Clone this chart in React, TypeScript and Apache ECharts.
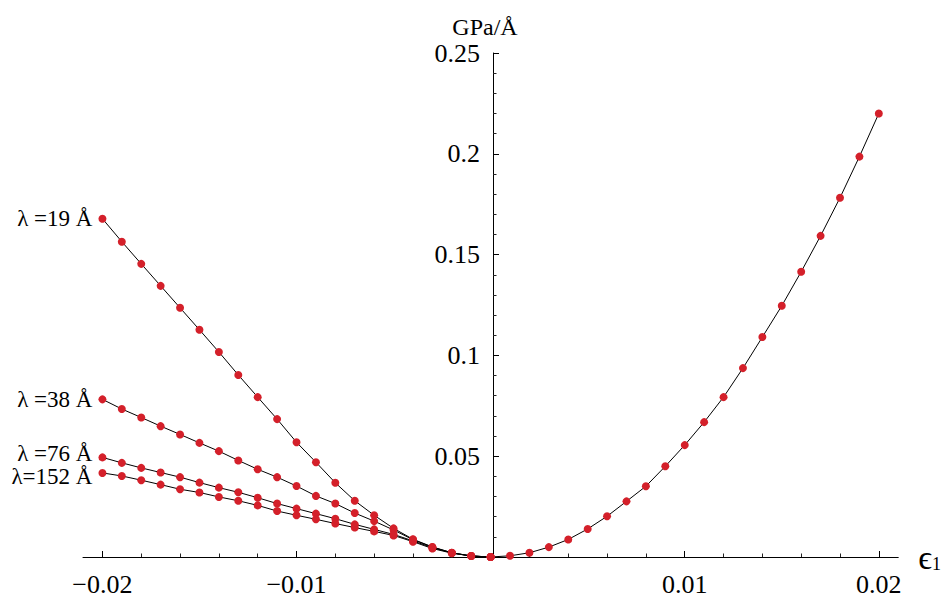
import React, { useEffect, useRef } from "react";
import * as echarts from "echarts";

// strain values (x)
const leftStrain = [-0.02, -0.019, -0.018, -0.017, -0.016, -0.015, -0.014, -0.013, -0.012, -0.011, -0.01, -0.009, -0.008, -0.007, -0.006, -0.005, -0.004, -0.003, -0.002, -0.001, 0];
const rightStrain = [0, 0.001, 0.002, 0.003, 0.004, 0.005, 0.006, 0.007, 0.008, 0.009, 0.01, 0.011, 0.012, 0.013, 0.014, 0.015, 0.016, 0.017, 0.018, 0.019, 0.02];

// energy values (GPa/Å)
const lambda19 = [0.1678, 0.1564, 0.1454, 0.1345, 0.1236, 0.1127, 0.1017, 0.0903, 0.0793, 0.0684, 0.0569, 0.047, 0.0368, 0.0279, 0.0207, 0.0142, 0.0088, 0.005, 0.0021, 0.0005, 0];
const lambda38 = [0.0782, 0.0734, 0.0692, 0.0649, 0.0608, 0.0566, 0.0525, 0.0479, 0.0435, 0.0396, 0.0352, 0.0303, 0.0265, 0.0218, 0.0178, 0.0134, 0.0086, 0.0049, 0.0021, 0.0005, 0];
const lambda76 = [0.0494, 0.0467, 0.0442, 0.0419, 0.0396, 0.0369, 0.0344, 0.0321, 0.0294, 0.0265, 0.024, 0.0215, 0.019, 0.0162, 0.0137, 0.0112, 0.008, 0.0046, 0.002, 0.0005, 0];
const lambda152 = [0.0417, 0.0402, 0.0381, 0.0359, 0.0336, 0.032, 0.0298, 0.0279, 0.0256, 0.0228, 0.0207, 0.0187, 0.0166, 0.0146, 0.0127, 0.0107, 0.0076, 0.0042, 0.0019, 0.0005, 0];
const tension = [0, 0.0006, 0.0021, 0.0049, 0.0087, 0.0139, 0.0202, 0.0276, 0.0351, 0.045, 0.0555, 0.0669, 0.0793, 0.0937, 0.1091, 0.1246, 0.1415, 0.1593, 0.1782, 0.1986, 0.22];

const lambdaNames = ["λ =19 Å", "λ =38 Å", "λ =76 Å", "λ=152 Å"];
const labelShift = [0, 0, -4, 4];
const xTickValues = [-0.02, -0.01, 0.01, 0.02];
const X_MIN = -0.021;
const X_MAX = 0.021;

const FONT = "Liberation Serif";
const RED = "#d4202a";

const GRID_LEFT = 83;
const GRID_RIGHT = 41;
const W = 944;
const H = 604;

function leftSeries(values: number[], idx: number) {
  const name = lambdaNames[idx];
  return {
    type: "line",
    name,
    data: leftStrain.map((x, i) =>
      i === 0
        ? {
            value: [x, values[i]],
            label: {
              show: true,
              position: "left",
              distance: 6,
              offset: [0, labelShift[idx]],
              formatter: name,
              fontFamily: FONT,
              fontSize: 23,
              color: "#000",
            },
          }
        : { value: [x, values[i]] }
    ),
    symbol: "circle",
    symbolSize: 8,
    showSymbol: true,
    clip: false,
    lineStyle: { color: "#000", width: 1 },
    itemStyle: { color: RED },
    emphasis: { disabled: true },
  };
}

export default function App() {
  const ref = useRef<HTMLDivElement>(null);
  useEffect(() => {
    if (!ref.current) return;
    const chart = echarts.init(ref.current, null, { renderer: "svg" });
    const gridWidth = W - GRID_LEFT - GRID_RIGHT;
    // move the y axis to x = 0
    const yOffset = -gridWidth * (0 - X_MIN) / (X_MAX - X_MIN);
    chart.setOption({
      animation: false,
      backgroundColor: "#fff",
      grid: { left: GRID_LEFT, right: GRID_RIGHT, top: 53, bottom: 47, containLabel: false },
      xAxis: {
        type: "value",
        min: X_MIN,
        max: X_MAX,
        splitNumber: 4,
        splitLine: { show: false },
        axisLine: { show: true, onZero: true, lineStyle: { color: "#000", width: 1 } },
        axisTick: { show: true, inside: true, length: 6, customValues: xTickValues, lineStyle: { color: "#000" } },
        minorTick: { show: true, splitNumber: 5, length: 3.5, lineStyle: { color: "#222" } },
        axisLabel: {
          customValues: xTickValues,
          margin: 14,
          fontFamily: FONT,
          fontSize: 26,
          color: "#000",
          formatter: (v: number) => {
            const r = Math.round(v * 1000) / 1000;
            if (!xTickValues.some((t) => Math.abs(t - r) < 1e-9)) return "";
            return (r < 0 ? "\u2212" : "") + Math.abs(r).toFixed(2);
          },
        },
        name: "{e|ϵ}{s|1}",
        nameLocation: "end",
        nameGap: 20,
        nameTextStyle: {
          color: "#000",
          fontFamily: FONT,
          rich: {
            e: { fontSize: 34, fontFamily: FONT, color: "#000" },
            s: { fontSize: 18, fontFamily: FONT, color: "#000", padding: [14, 0, 0, 0] },
          },
        },
      },
      yAxis: {
        type: "value",
        min: 0,
        max: 0.25,
        interval: 0.05,
        offset: yOffset,
        splitLine: { show: false },
        axisLine: { show: true, onZero: false, lineStyle: { color: "#000", width: 1 } },
        axisTick: { show: true, inside: true, length: 6, lineStyle: { color: "#000" } },
        minorTick: { show: true, splitNumber: 5, length: 3.5, lineStyle: { color: "#222" } },
        axisLabel: {
          margin: 13,
          fontFamily: FONT,
          fontSize: 26,
          color: "#000",
          formatter: (v: number) => (Math.abs(v) < 1e-9 ? "" : String(+v.toFixed(2))),
        },
        name: "GPa/Å",
        nameLocation: "end",
        nameGap: 14,
        nameTextStyle: { fontFamily: FONT, fontSize: 24, color: "#000", padding: [0, 16, 0, 0] },
      },
      series: [
        leftSeries(lambda19, 0),
        leftSeries(lambda38, 1),
        leftSeries(lambda76, 2),
        leftSeries(lambda152, 3),
        {
          type: "line",
          name: "tension",
          data: rightStrain.map((x, i) => [x, tension[i]]),
          symbol: "circle",
          symbolSize: 8,
          showSymbol: true,
          clip: false,
          lineStyle: { color: "#000", width: 1 },
          itemStyle: { color: RED },
          emphasis: { disabled: true },
        },
      ],
    });
    return () => chart.dispose();
  }, []);
  return (
    <div
      ref={ref}
      style={{ position: "fixed", left: 0, top: 0, width: W, height: H, background: "#fff" }}
    />
  );
}
